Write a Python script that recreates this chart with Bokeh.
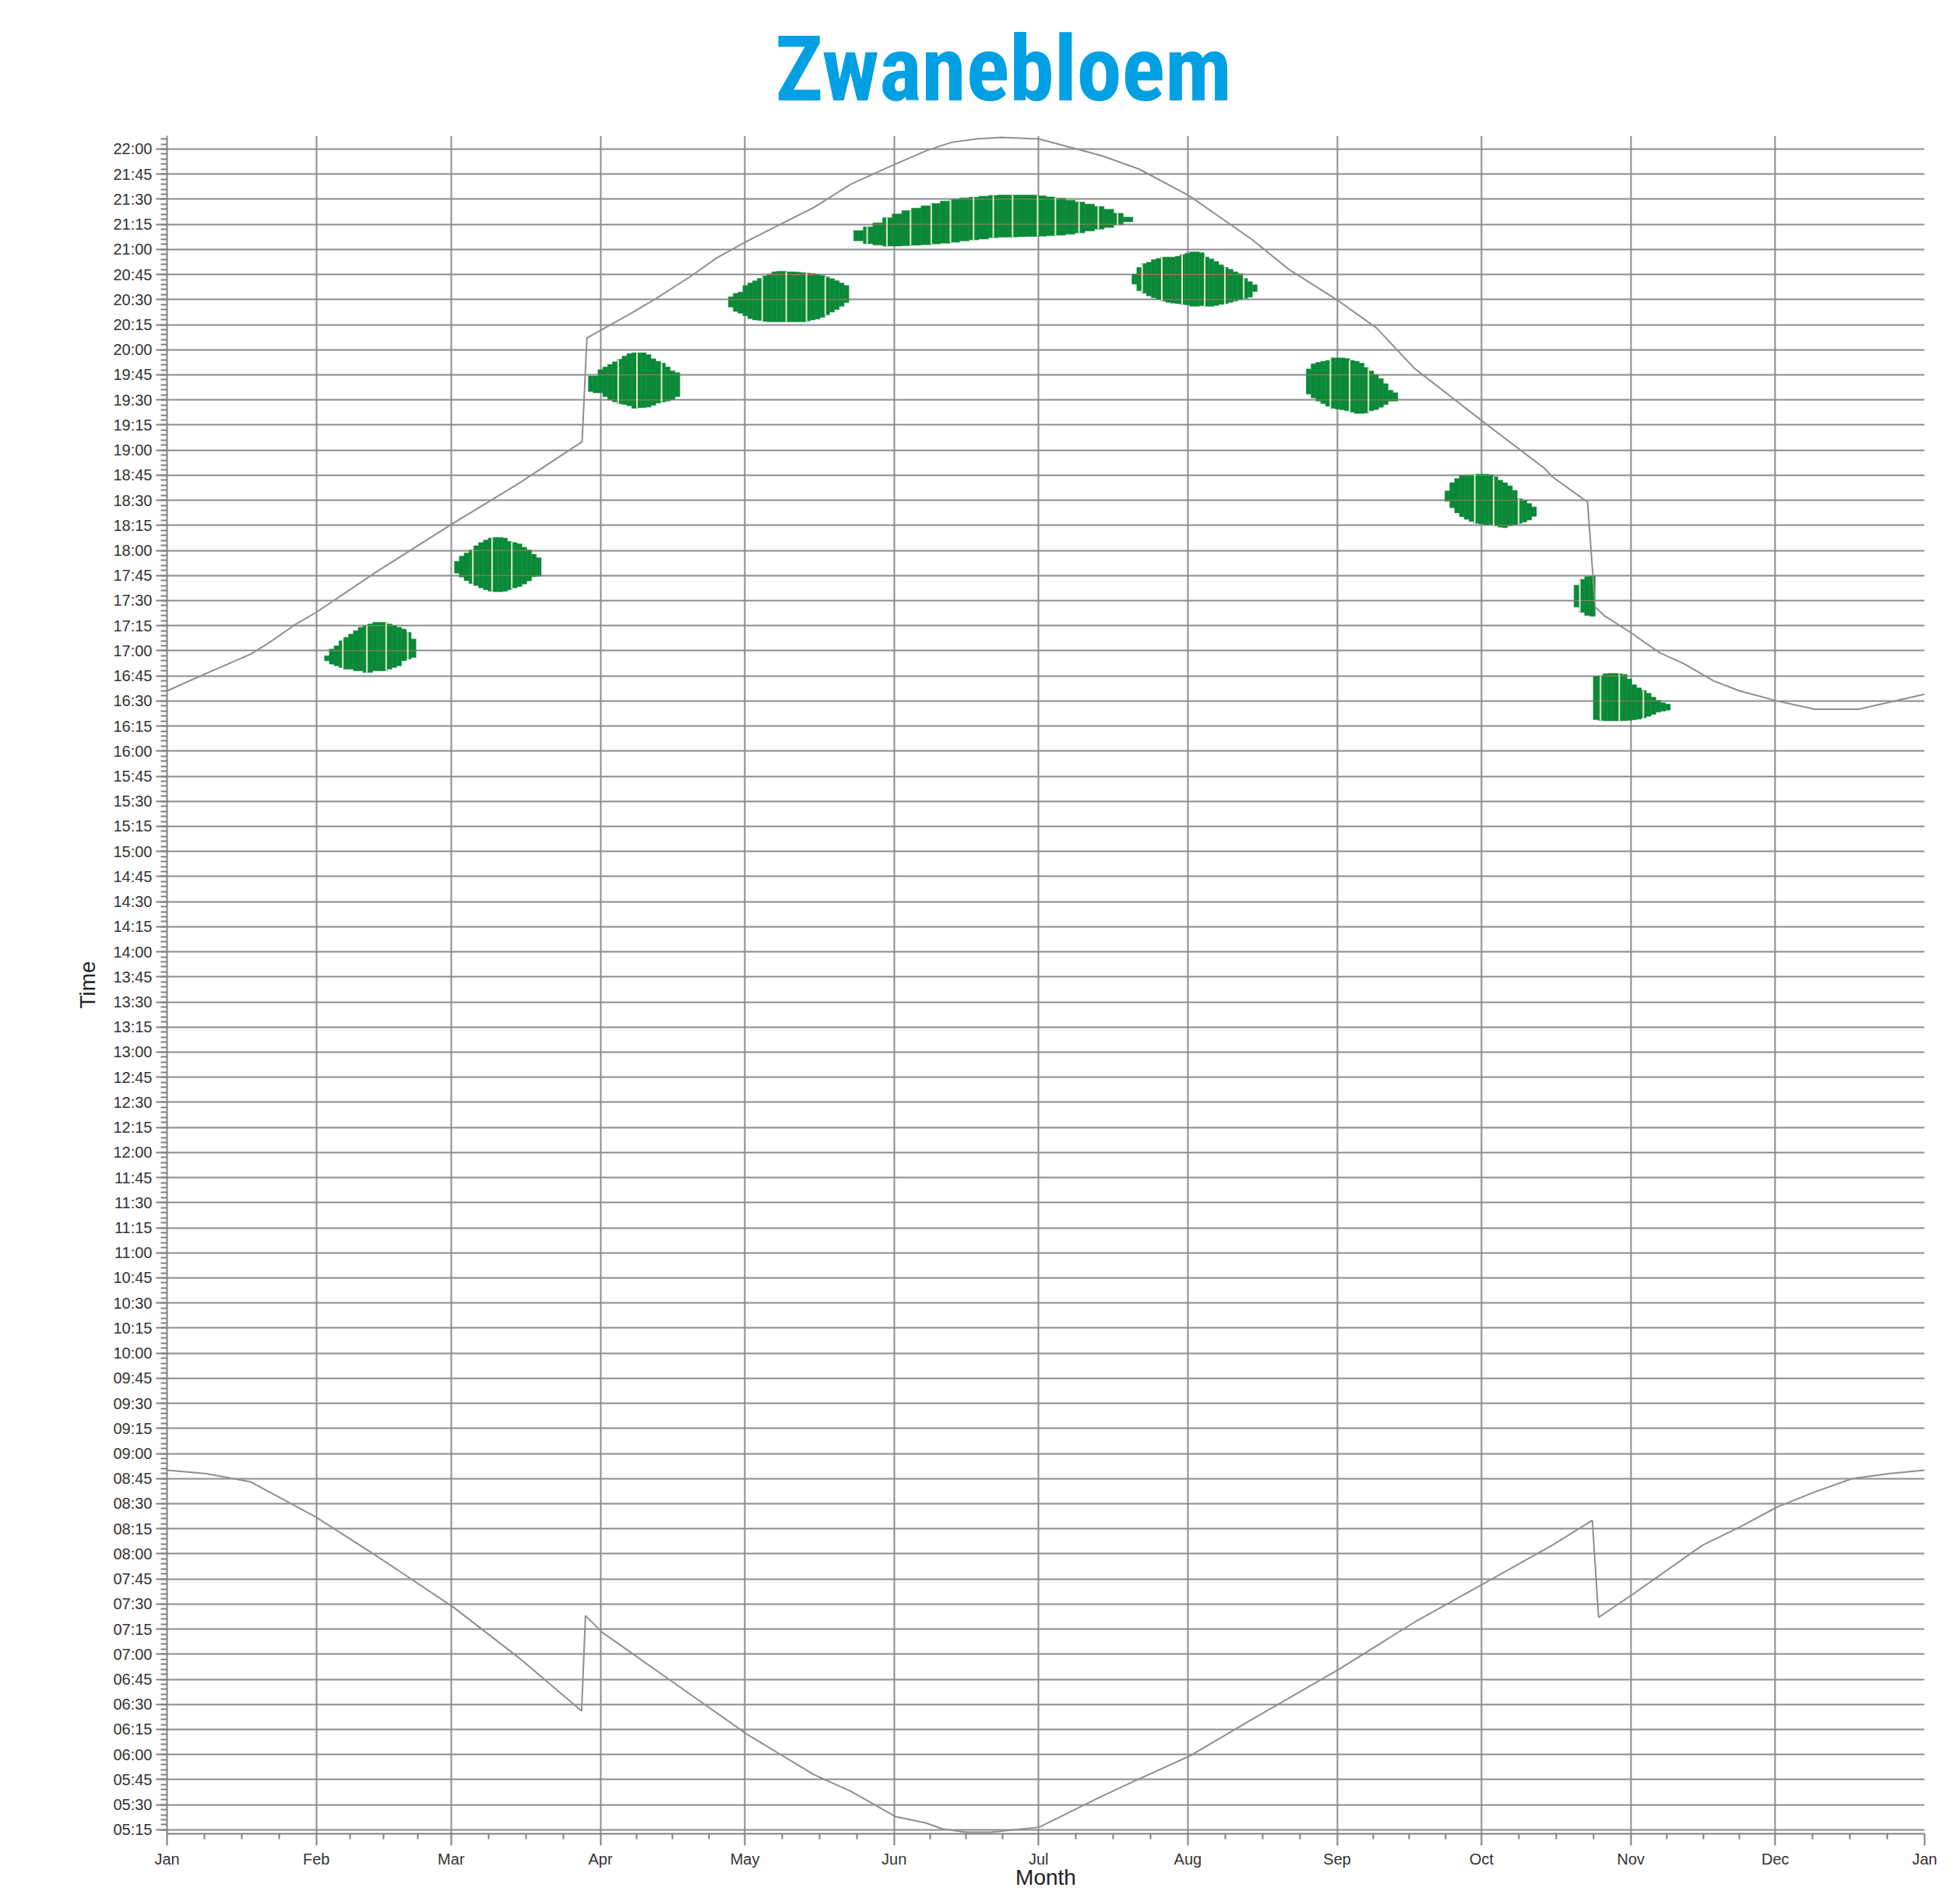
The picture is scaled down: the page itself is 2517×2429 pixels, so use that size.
from bokeh.plotting import figure
from bokeh.models import Range1d, FixedTicker, ColumnDataSource
from bokeh.embed import file_html
from bokeh.resources import INLINE

# ---------------- data ----------------
month_labels = ["Jan", "Feb", "Mar", "Apr", "May", "Jun", "Jul", "Aug", "Sep", "Oct", "Nov", "Dec", "Jan"]
month_start = [0, 31, 59, 90, 120, 151, 181, 212, 243, 273, 304, 334, 365]

# sunset (day of year, minutes after midnight)
sunset_day = [0, 7.0, 17.4, 21.3, 26.8, 31.0, 43.4, 59.3, 73.0, 86.2, 87.2, 90.3, 95.9, 101.2, 108.8, 114.2, 120.5,
              134.3, 142.0, 151.2, 157.7, 162.9, 168.0, 173.3, 181.1, 194.1, 201.9, 212.3, 225.3, 233.0, 243.4,
              251.2, 259.0, 273.3, 286.1, 287.7, 295.0, 296.6, 298.5, 303.9, 309.9, 315.2, 321.2, 326.6, 334.4,
              342.2, 351.3, 365]
sunset_min = [996, 1005, 1018, 1025, 1036, 1043, 1067, 1096, 1120, 1145, 1207, 1212, 1221, 1230, 1244, 1255, 1265,
              1285, 1299, 1311, 1319, 1324, 1326, 1327, 1326, 1316, 1308, 1292, 1266, 1248, 1229,
              1213, 1189, 1157, 1129, 1124, 1109, 1046, 1041, 1031, 1019, 1012, 1002, 996, 990,
              985, 985, 994]

# sunrise (day of year, minutes after midnight)
sunrise_day = [0, 8.0, 17.4, 30.9, 43.4, 59.5, 73.0, 86.1, 86.9, 90.4, 105.7, 120.5, 134.3, 142.0, 151.2, 157.7,
               161.0, 166.0, 171.0, 176.5, 181.1, 194.1, 199.3, 212.3, 225.3, 243.4, 259.0, 273.3, 287.6, 296.0,
               297.3, 304.5, 318.8, 326.6, 334.4, 342.2, 350.0, 357.8, 365]
sunrise_min = [530, 528, 523, 502, 479, 448, 418, 386, 443, 433, 402, 372, 348, 338, 323, 319,
               315.5, 313.5, 313.5, 315.2, 316.5, 335, 342, 359, 381, 411, 439, 462, 485, 500,
               442, 456, 485, 496, 508, 517, 525, 528, 530]

# green blobs: first day, column width (days), column tops and bottoms (minutes after midnight)
blob1_start, blob1_width = 32.7, 1.0
blob1_top = [1017, 1021, 1023, 1026, 1028, 1030, 1032, 1034, 1035, 1036, 1037, 1037, 1037, 1036, 1035, 1034, 1033, 1031, 1027]
blob1_bot = [1014, 1012, 1011, 1010, 1009, 1009, 1008, 1008, 1007, 1007, 1008, 1008, 1008, 1009, 1010, 1011, 1014, 1015, 1016]

blob2_start, blob2_width = 59.7, 1.0
blob2_top = [1073.5, 1076.6, 1078.5, 1080.3, 1082.8, 1084.7, 1086.2, 1087.4, 1087.8, 1087.8, 1087.4, 1085.4, 1084.7,
             1083.9, 1081.9, 1080.3, 1077.7, 1075.7]
blob2_bot = [1066.4, 1064.1, 1061.9, 1060.2, 1059.0, 1057.6, 1056.5, 1055.6, 1055.3, 1055.3, 1055.6, 1056.5, 1057.6,
             1058.4, 1059.9, 1061.8, 1064.3, 1064.6]

blob3_start, blob3_width = 87.5, 1.0
blob3_top = [1184.3, 1184.3, 1188.1, 1189.7, 1191.2, 1192.8, 1194.3, 1196.2, 1197.7, 1198.2, 1198.2, 1198.2, 1197.1,
             1194.6, 1193.1, 1192.0, 1189.7, 1187.4, 1186.3]
blob3_bot = [1175.0, 1174.2, 1174.2, 1171.9, 1169.9, 1168.8, 1167.7, 1167.3, 1166.5, 1165.0, 1165.3, 1165.4, 1165.7,
             1166.8, 1168.1, 1168.8, 1169.3, 1170.4, 1171.9]

blob4_start, blob4_width = 116.6, 1.0
blob4_top = [1231.7, 1233.7, 1234.5, 1238.4, 1239.9, 1241.2, 1242.7, 1244.1, 1245.3, 1246.6, 1246.9, 1246.9, 1246.6,
             1246.6, 1246.4, 1246.1, 1245.8, 1245.6, 1245.0, 1244.4, 1243.5, 1242.5, 1241.3, 1239.9, 1238.4]
blob4_bot = [1225.5, 1222.9, 1221.8, 1220.3, 1218.6, 1217.8, 1217.5, 1216.9, 1216.7, 1216.7, 1216.7, 1216.7, 1216.7,
             1216.7, 1216.7, 1216.7, 1217.2, 1217.8, 1218.3, 1219.4, 1220.9, 1222.5, 1224.0, 1226.0, 1228.3]

blob5_start, blob5_width = 142.6, 2.0
blob5_top = [1271.3, 1273.5, 1275.9, 1278.9, 1281.2, 1283.2, 1284.7, 1286.1, 1287.5, 1288.9, 1289.8, 1290.8, 1291.2,
             1291.8, 1292.3, 1292.5, 1292.5, 1292.5, 1292.5, 1292.0, 1291.4, 1290.6, 1289.4, 1288.3, 1287.1, 1285.7,
             1284.0, 1281.6, 1279.3]
blob5_bot = [1265.1, 1263.4, 1262.6, 1262.0, 1262.0, 1262.2, 1262.5, 1262.8, 1263.3, 1263.7, 1264.3, 1265.1, 1265.7,
             1266.2, 1267.0, 1267.3, 1267.4, 1267.6, 1267.7, 1267.9, 1268.2, 1268.5, 1269.1, 1269.9, 1271.0, 1272.1,
             1273.1, 1274.7, 1276.5]

blob6_start, blob6_width = 200.4, 1.0
blob6_top = [1245.0, 1249.2, 1251.5, 1252.3, 1253.9, 1254.6, 1255.4, 1255.4, 1255.4, 1255.9, 1256.9, 1257.7, 1258.5,
             1258.5, 1258.0, 1255.4, 1254.3, 1252.8, 1250.8, 1249.2, 1248.1, 1246.6, 1245.4, 1242.6, 1240.7, 1238.9]
blob6_bot = [1239.2, 1235.3, 1233.8, 1232.2, 1231.1, 1230.2, 1229.1, 1228.4, 1227.9, 1227.6, 1227.1, 1226.8, 1226.0,
             1226.0, 1226.3, 1226.0, 1226.0, 1226.5, 1227.1, 1227.6, 1228.4, 1229.1, 1230.2, 1230.7, 1231.4, 1234.8]

blob7_start, blob7_width = 236.6, 1.0
blob7_top = [1188.5, 1191.6, 1192.5, 1193.1, 1193.6, 1195.1, 1195.1, 1195.1, 1194.7, 1193.6, 1193.1, 1192.0, 1189.4,
             1187.3, 1185.1, 1182.8, 1179.7, 1175.8, 1174.3]
blob7_bot = [1173.5, 1171.2, 1169.3, 1167.8, 1166.2, 1165.0, 1164.5, 1164.1, 1163.5, 1162.7, 1161.9, 1161.9, 1162.2,
             1163.5, 1164.2, 1165.6, 1167.2, 1169.3, 1169.3]

blob8_start, blob8_width = 265.4, 1.0
blob8_top = [1115.6, 1120.5, 1123.0, 1124.8, 1125.1, 1125.1, 1125.6, 1125.6, 1125.6, 1125.3, 1124.1, 1122.0, 1120.5,
             1118.6, 1115.9, 1110.9, 1110.1, 1108.1, 1106.0]
blob8_bot = [1109.4, 1105.5, 1102.4, 1100.1, 1098.6, 1097.3, 1096.2, 1095.8, 1095.5, 1095.5, 1094.7, 1093.9, 1093.6,
             1094.7, 1095.5, 1096.2, 1097.0, 1098.2, 1100.4]

blob9_start, blob9_width = 292.2, 1.1
blob9_top = [1059.2, 1062.7, 1064.3, 1064.6]
blob9_bot = [1046.1, 1043.0, 1041.1, 1040.6]

blob10_start, blob10_width = 296.2, 1.0
blob10_top = [1004.6, 1004.9, 1006.3, 1006.5, 1006.5, 1006.3, 1005.9, 1003.1, 999.7, 997.8, 996.3, 994.6, 992.3,
              990.4, 988.9, 988.1]
blob10_bot = [978.8, 978.4, 978.1, 978.1, 978.1, 978.1, 978.2, 978.4, 978.7, 979.1, 979.9, 980.8, 981.9, 983.3,
              983.9, 984.5]

# light seams visible inside the blobs (day of year)
seam_days = [36.5, 41.5, 45.5, 50.0, 63.5, 67.5, 71.6, 93.7, 97.6, 102.7, 123.6, 128.6, 132.8, 136.7,
             145.4, 149.5, 154.4, 158.7, 162.7, 167.5, 171.6, 175.6, 180.8, 184.5, 189.4, 193.4, 197.4,
             202.5, 206.6, 210.8, 215.5, 219.7, 223.6, 241.6, 245.6, 249.5, 271.6, 275.5, 280.7, 293.4,
             297.7, 301.6, 306.6]

blobs = [
    (blob1_start, blob1_width, blob1_top, blob1_bot),
    (blob2_start, blob2_width, blob2_top, blob2_bot),
    (blob3_start, blob3_width, blob3_top, blob3_bot),
    (blob4_start, blob4_width, blob4_top, blob4_bot),
    (blob5_start, blob5_width, blob5_top, blob5_bot),
    (blob6_start, blob6_width, blob6_top, blob6_bot),
    (blob7_start, blob7_width, blob7_top, blob7_bot),
    (blob8_start, blob8_width, blob8_top, blob8_bot),
    (blob9_start, blob9_width, blob9_top, blob9_bot),
    (blob10_start, blob10_width, blob10_top, blob10_bot),
]

# ---------------- figure ----------------
Y0, Y1 = 312.6, 1327.9
p = figure(width=2517, height=2429, output_backend="svg", toolbar_location=None,
           x_range=Range1d(0, 365), y_range=Range1d(Y0, Y1),
           min_border_left=214, min_border_right=46, min_border_top=172, min_border_bottom=67)
p.outline_line_color = None
p.background_fill_color = "white"
p.border_fill_color = "white"

# title
p.title.text = "Zwanebloem"
p.title.align = "left"
p.title.offset = 781
p.title.standoff = 36
p.title.text_font = "Roboto Condensed, DejaVu Sans Condensed, sans-serif"
p.title.text_font_style = "bold"
p.title.text_font_size = "116px"
p.title.text_color = "#00a0e3"

# axes / ticks
x_minor = []
for a, b in zip(month_start[:-1], month_start[1:]):
    for k in (1, 2, 3):
        x_minor.append(a + (b - a) * k / 4)
p.xaxis.ticker = FixedTicker(ticks=month_start, minor_ticks=x_minor)
p.xaxis.major_label_overrides = {m: lab for m, lab in zip(month_start, month_labels)}

y_ticks = list(range(315, 1321, 15))
y_minor = list(range(312, 1328, 3))
p.yaxis.ticker = FixedTicker(ticks=y_ticks, minor_ticks=y_minor)
p.yaxis.major_label_overrides = {t: "%02d:%02d" % (t // 60, t % 60) for t in y_ticks}

for ax in (p.xaxis[0], p.yaxis[0]):
    ax.axis_line_color = "#808080"
    ax.axis_line_width = 2
    ax.major_tick_line_color = "#808080"
    ax.major_tick_line_width = 2
    ax.minor_tick_line_color = "#808080"
    ax.minor_tick_line_width = 2
    ax.major_tick_in = 0
    ax.minor_tick_in = 0
    ax.major_label_text_font = "Liberation Sans"
    ax.major_label_text_font_size = "20px"
    ax.major_label_text_color = "#333333"
    ax.axis_label_text_font = "Liberation Sans"
    ax.axis_label_text_font_size = "28px"
    ax.axis_label_text_font_style = "normal"
    ax.axis_label_text_color = "#222222"

p.xaxis.major_tick_out = 15
p.xaxis.minor_tick_out = 7
p.xaxis.major_label_standoff = 6
p.xaxis.axis_label = "Month"
p.xaxis.axis_label_standoff = -6

p.yaxis.major_tick_out = 14
p.yaxis.minor_tick_out = 8
p.yaxis.major_label_standoff = 5
p.yaxis.axis_label = "Time"
p.yaxis.axis_label_standoff = 14

p.grid.grid_line_color = "#8c8c8c"
p.grid.grid_line_width = 2

# ---------------- blobs ----------------
left, right, bottom, top = [], [], [], []
for start, w, tops, bots in blobs:
    for i, (t, b) in enumerate(zip(tops, bots)):
        left.append(start + i * w)
        right.append(start + (i + 1) * w)
        top.append(t)
        bottom.append(b)
p.quad(left="left", right="right", bottom="bottom", top="top",
       source=ColumnDataSource(dict(left=left, right=right, bottom=bottom, top=top)),
       fill_color="#0a8938", line_color="#0a8938", line_width=0.5)

# faint grid traces inside blobs
hx0, hx1, hy = [], [], []
for l, r, b, t in zip(left, right, bottom, top):
    for g in y_ticks:
        if b < g < t:
            hx0.append(l)
            hx1.append(r)
            hy.append(g)
p.segment(x0=hx0, y0=hy, x1=hx1, y1=hy, line_color="#a87f5f", line_width=1)

# light seams
sx, sy0, sy1 = [], [], []
for d in seam_days:
    for l, r, b, t in zip(left, right, bottom, top):
        if l <= d < r:
            sx.append(d)
            sy0.append(b)
            sy1.append(t)
            break
p.segment(x0=sx, y0=sy0, x1=sx, y1=sy1, line_color="#dfe9c6", line_width=2)

# ---------------- sun curves ----------------
p.line(sunset_day, sunset_min, line_color="#8f8f8f", line_width=2)
p.line(sunrise_day, sunrise_min, line_color="#8f8f8f", line_width=2)

open("out.html", "w").write(file_html(p, INLINE))
